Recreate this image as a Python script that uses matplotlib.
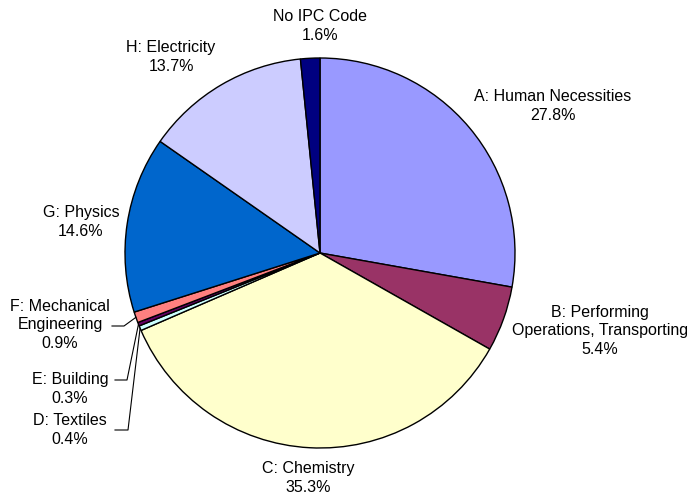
import numpy as np
import matplotlib
matplotlib.use('Agg')
import matplotlib.pyplot as plt

plt.rcParams['font.family'] = ['Liberation Sans', 'DejaVu Sans']

# IPC sections, clockwise from 12 o'clock
labels = ['A: Human Necessities', 'B: Performing\nOperations, Transporting',
          'C: Chemistry', 'D: Textiles', 'E: Building',
          'F: Mechanical\nEngineering', 'G: Physics', 'H: Electricity',
          'No IPC Code']
shares = [27.8, 5.4, 35.3, 0.4, 0.3, 0.9, 14.6, 13.7, 1.6]
colors = ['#9999FF', '#993366', '#FFFFCC', '#CCFFFF', '#660066',
          '#FF8080', '#0066CC', '#CCCCFF', '#000080']

W, H = 689, 496
cx, cy, r = 320, H - 253, 195

# label centres (pixels, y from top)
label_pos = [(553, 106), (600, 331), (308, 478), (70, 430), (70, 389),
             (60, 325), (81, 222), (171, 57), (320, 26)]
# label text end used for the small slices' leader lines
leader_start = {3: (115, 430), 4: (115, 380), 5: (112, 326)}
leader_knee = {3: (128, 430), 4: (127, 380), 5: (124, 326)}

fig = plt.figure(figsize=(W / 100, H / 100), dpi=100)
ax = fig.add_axes([0, 0, 1, 1])

wedges, _ = ax.pie(shares, colors=colors, startangle=90, counterclock=False,
                   center=(cx, cy), radius=r,
                   wedgeprops=dict(edgecolor='black', linewidth=1.0))

ax.set_xlim(0, W)
ax.set_ylim(0, H)
ax.set_aspect('equal')
ax.axis('off')

for i, (lab, val) in enumerate(zip(labels, shares)):
    x, y = label_pos[i]
    ax.text(x, H - y, f'{lab}\n{val:.1f}%', ha='center', va='center',
            fontsize=11.5, linespacing=1.3)

for i in leader_start:
    w = wedges[i]
    mid = np.deg2rad((w.theta1 + w.theta2) / 2)
    ex, ey = cx + r * np.cos(mid), cy + r * np.sin(mid)
    sx, sy = leader_start[i]
    kx, ky = leader_knee[i]
    ax.plot([sx, kx, ex], [H - sy, H - ky, ey], color='black', lw=0.8)

fig.savefig('out.png', dpi=100)
